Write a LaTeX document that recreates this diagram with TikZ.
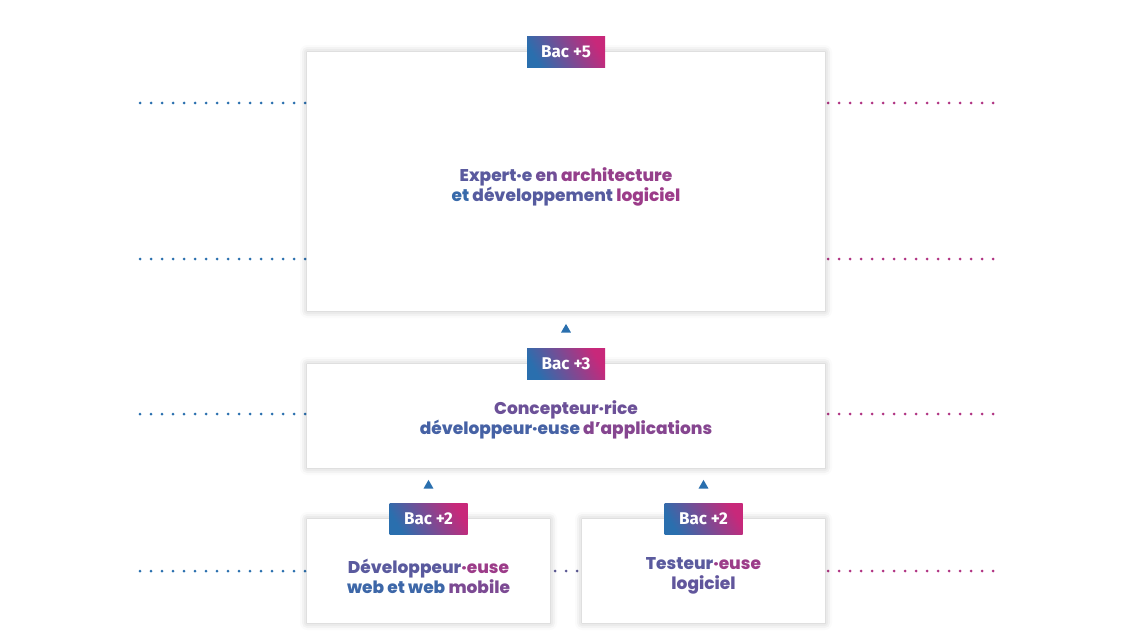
\documentclass[tikz,border=0pt]{standalone}
\usepackage{fontspec}
\setmainfont{Poppins}[BoldFont={Poppins ExtraBold}]
\newfontfamily\badgefont{Fira Sans}
\usetikzlibrary{positioning,shapes.geometric,shadows.blur}
\definecolor{gblue}{HTML}{2A6FAE}
\definecolor{gpink}{HTML}{C8287A}
\definecolor{gmid}{HTML}{5B5894}
% one word of the gradient text, #1 = share of pink
\newcommand{\gw}[2]{\textcolor{gpink!#1!gblue}{#2}}
\begin{document}
\begin{tikzpicture}
      [x=1pt,y=1pt
      ,card/.style={fill=white,inner sep=0pt,
         blur shadow={shadow xshift=0pt,shadow yshift=0pt,shadow blur radius=7pt,shadow opacity=25}}
      ,badge/.style={left color=gblue,right color=gpink,shading angle=120,
         minimum width=78,minimum height=31,inner sep=0pt,text=white,
         font=\badgefont\bfseries\fontsize{17}{20}\selectfont}
      ,label/.style={align=center,font=\bfseries\fontsize{17}{20}\selectfont}
      ,uptri/.style={regular polygon,regular polygon sides=3,fill=gblue,
         minimum size=11.5,inner sep=0pt}
      ,dotl/.style={fill=gblue}
      ,dotr/.style={fill=gpink!85!gblue}
      ,dotm/.style={fill=gmid}
      ]
        \useasboundingbox (0,0) rectangle (1132,-639);
        % rows of dots
        \foreach \y in {103,259,414,571}{
          \foreach \i in {0,...,15}{
            \fill[dotl] (140+11*\i, -\y) circle (1.5);
            \fill[dotr] (828+11*\i, -\y) circle (1.5);
          }
        }
        \foreach \i in {0,1,2}
          \fill[dotm] (555+11*\i, -571) circle (1.5);

        % cards
        \node[card,minimum width=518,minimum height=259] (bac5) at (566,-181.5) {};
        \node[card,minimum width=518,minimum height=104] (bac3) at (566,-416) {};
        \node[card,minimum width=243,minimum height=104] (web) at (428.5,-571) {};
        \node[card,minimum width=243,minimum height=104] (test) at (703.5,-571) {};

        \node[badge] (b5) at (bac5.north) {Bac +5};
        \node[badge] (b3) at (bac3.north) {Bac +3};
        \node[badge] (bw) at (web.north) {Bac +2};
        \node[badge] (bt) at (test.north) {Bac +2};

        \node[label] at ([yshift=-5]bac5.center)
          {\gw{30}{Expert·e} \gw{45}{en} \gw{68}{architecture}\\
           \gw{8}{et} \gw{28}{développement} \gw{72}{logiciel}};
        \node[label] at ([yshift=-4]bac3.center)
          {\gw{42}{Concepteur·rice}\\
           \gw{18}{développeur·euse} \gw{58}{d’applications}};
        \node[label] at ([yshift=-5]web.center)
          {\gw{30}{Développeur}\gw{72}{·euse}\\
           \gw{12}{web et web} \gw{52}{mobile}};
        \node[label] at ([yshift=-5]test.center)
          {\gw{30}{Testeur}\gw{72}{·euse}\\
           \gw{35}{logiciel}};

        % arrow heads
        \path (bac5.south) -- (b3.north) node[midway,uptri] {};
        \path (web.center |- bac3.south) -- (bw.north) node[midway,uptri] {};
        \path (test.center |- bac3.south) -- (bt.north) node[midway,uptri] {};

      \end{tikzpicture}
\end{document}
